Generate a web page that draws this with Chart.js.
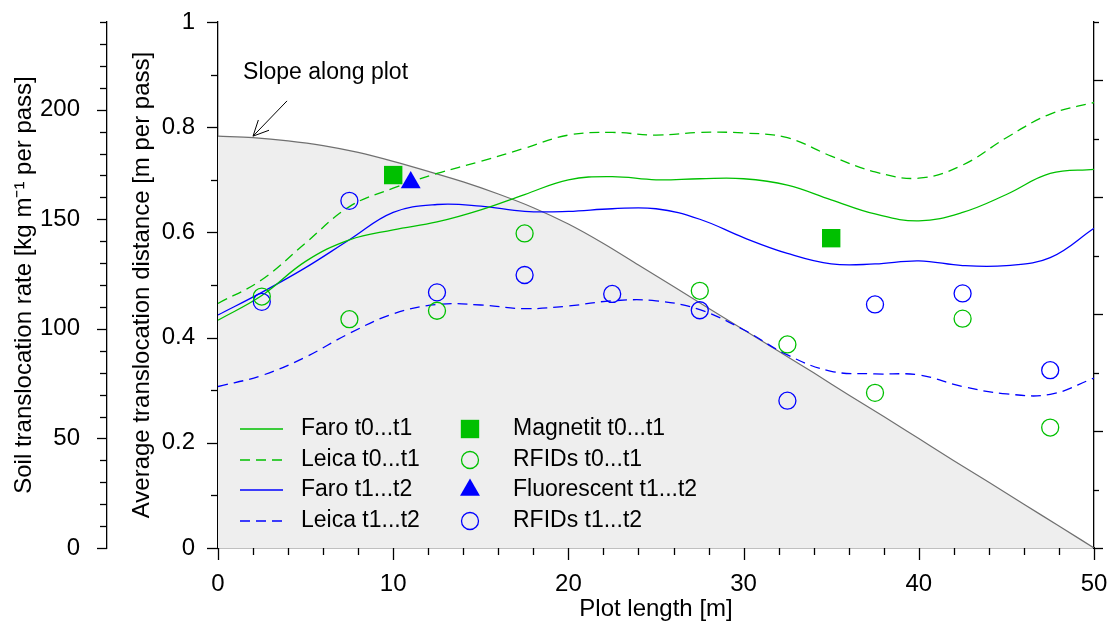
<!DOCTYPE html>
<html lang="en">
<head>
    <meta charset="UTF-8">
    <title>Translocation along plot</title>
    <script src="https://cdn.jsdelivr.net/npm/chart.js"></script>
    <style>
        html, body { margin: 0; padding: 0; background: #fff; }
    </style>
</head>
<body>
    <canvas id="grafico" width="1114" height="628"></canvas>

    <script>
        // profile positions along the plot [m]
        const lineX = [0, 2.5, 5, 7.5, 10, 12.5, 15, 17.5, 20, 22.5, 25, 27.5, 30, 32.5, 35, 37.5, 40, 42.5, 45, 47.5, 50];
        const faroT0T1 = [0.433, 0.48, 0.545, 0.586, 0.605, 0.62, 0.643, 0.672, 0.70, 0.706, 0.70, 0.702, 0.702, 0.69, 0.662, 0.635, 0.622, 0.638, 0.672, 0.712, 0.72];
        const leicaT0T1 = [0.465, 0.51, 0.58, 0.649, 0.684, 0.712, 0.735, 0.76, 0.785, 0.79, 0.785, 0.79, 0.789, 0.78, 0.745, 0.715, 0.703, 0.728, 0.78, 0.825, 0.847];
        const faroT1T2 = [0.443, 0.486, 0.533, 0.586, 0.638, 0.653, 0.65, 0.64, 0.64, 0.645, 0.645, 0.625, 0.59, 0.56, 0.54, 0.54, 0.546, 0.537, 0.537, 0.552, 0.608];
        const leicaT1T2 = [0.307, 0.328, 0.363, 0.408, 0.445, 0.463, 0.462, 0.455, 0.46, 0.47, 0.47, 0.453, 0.415, 0.367, 0.336, 0.331, 0.329, 0.307, 0.293, 0.292, 0.323];

        // tracer measurements
        const magnetitX = [10, 35];
        const magnetitY = [0.709, 0.589];
        const fluorX = [11];
        const fluorY = [0.695];
        const rfidT0T1X = [2.5, 7.5, 12.5, 17.5, 27.5, 32.5, 37.5, 42.5, 47.5];
        const rfidT0T1Y = [0.478, 0.435, 0.451, 0.598, 0.489, 0.387, 0.295, 0.436, 0.229];
        const rfidT1T2X = [2.5, 7.5, 12.5, 17.5, 22.5, 27.5, 32.5, 37.5, 42.5, 47.5];
        const rfidT1T2Y = [0.468, 0.66, 0.486, 0.519, 0.483, 0.452, 0.28, 0.463, 0.484, 0.338];

        // slope profile (relative elevation, drawn on distance axis)
        const slopeX = [0, 2, 4, 6, 8, 10, 12, 14, 16, 18, 20, 22, 24, 26, 28, 30, 32, 34, 36, 38, 40, 42, 44, 46, 48, 50];
        const slopeY = [0.783, 0.780, 0.774, 0.765, 0.752, 0.735, 0.716, 0.696, 0.673, 0.647, 0.616, 0.579, 0.538, 0.497, 0.456, 0.415, 0.374, 0.333, 0.291, 0.250, 0.208, 0.166, 0.125, 0.083, 0.042, 0.0];

        // axis tick values
        const xMajor = [0, 10, 20, 30, 40, 50];
        const xMinor = [2, 4, 6, 8, 12, 14, 16, 18, 22, 24, 26, 28, 32, 34, 36, 38, 42, 44, 46, 48];
        const distMajor = [0, 0.2, 0.4, 0.6, 0.8, 1];
        const distMinor = [0.1, 0.3, 0.5, 0.7, 0.9];
        const soilMajor = [0, 50, 100, 150, 200];
        const soilMinor = [10, 20, 30, 40, 60, 70, 80, 90, 110, 120, 130, 140, 160, 170, 180, 190, 210, 220, 230, 240];
        const rightMajor = [0, 2, 4, 6, 8];
        const rightMinor = [1, 3, 5, 7, 9];

        const verde = '#00c000';
        const azul = '#0000ff';

        function pares(xs, ys) {
            return xs.map((x, i) => ({ x: x, y: ys[i] }));
        }

        function linha(label, ys, cor, dash) {
            return {
                type: 'line', label: label, data: pares(lineX, ys),
                borderColor: cor, borderWidth: 1.3, borderDash: dash,
                pointRadius: 0, tension: 0.4, fill: false, order: 5
            };
        }

        function pontos(label, xs, ys, estilo, raio, cor, cheio) {
            return {
                type: 'scatter', label: label, data: pares(xs, ys),
                pointStyle: estilo, pointRadius: raio,
                borderColor: cor, backgroundColor: cheio ? cor : 'rgba(0,0,0,0)',
                pointBorderWidth: cheio ? 0 : 1.3, showLine: false, order: 1
            };
        }

        const datasets = [
            linha('Faro t0...t1', faroT0T1, verde, []),
            linha('Leica t0...t1', leicaT0T1, verde, [10, 6]),
            linha('Faro t1...t2', faroT1T2, azul, []),
            linha('Leica t1...t2', leicaT1T2, azul, [10, 6]),
            pontos('Magnetit t0...t1', magnetitX, magnetitY, 'rect', 13, verde, true),
            pontos('RFIDs t0...t1', rfidT0T1X, rfidT0T1Y, 'circle', 8.5, verde, false),
            pontos('Fluorescent t1...t2', fluorX, fluorY, 'triangle', 11.5, azul, true),
            pontos('RFIDs t1...t2', rfidT1T2X, rfidT1T2Y, 'circle', 8.5, azul, false),
            {
                type: 'line', label: 'Slope', data: pares(slopeX, slopeY),
                borderColor: '#707070', borderWidth: 1.2, backgroundColor: '#eeeeee',
                fill: 'origin', pointRadius: 0, cubicInterpolationMode: 'monotone', order: 10
            }
        ];

        // ticks, legend and the slope note
        const extras = {
            id: 'extras',
            afterDraw(chart) {
                const ctx = chart.ctx;
                const s = chart.scales;
                ctx.save();
                ctx.strokeStyle = '#000';
                ctx.lineWidth = 1.3;

                function marcas(scale, vals, len, lado) {
                    vals.forEach(v => {
                        const p = Math.round(scale.getPixelForValue(v)) + 0.5;
                        ctx.beginPath();
                        if (lado === 'left') { ctx.moveTo(scale.right, p); ctx.lineTo(scale.right - len, p); }
                        else if (lado === 'right') { ctx.moveTo(scale.left, p); ctx.lineTo(scale.left + len, p); }
                        else { ctx.moveTo(p, scale.top); ctx.lineTo(p, scale.top + len); }
                        ctx.stroke();
                    });
                }
                marcas(s.x, xMajor, 12, 'bottom');
                marcas(s.x, xMinor, 7, 'bottom');
                marcas(s.y, distMajor, 11, 'left');
                marcas(s.y, distMinor, 7, 'left');
                marcas(s.soil, soilMajor, 10, 'left');
                marcas(s.soil, soilMinor, 7, 'left');
                marcas(s.right, rightMajor, 9, 'right');
                marcas(s.right, rightMinor, 5, 'right');

                // legend inside plot area
                const a = chart.chartArea;
                ctx.font = '23px "Liberation Sans", Arial, sans-serif';
                ctx.fillStyle = '#000';
                ctx.textBaseline = 'middle';
                ctx.textAlign = 'left';
                const linhas = [a.bottom - 119, a.bottom - 88, a.bottom - 58, a.bottom - 27];
                chart.data.datasets.slice(0, 8).forEach((ds, i) => {
                    const col = Math.floor(i / 4);
                    const y = linhas[i % 4];
                    if (col === 0) {
                        ctx.save();
                        ctx.strokeStyle = ds.borderColor;
                        ctx.lineWidth = ds.borderWidth;
                        ctx.setLineDash(ds.borderDash || []);
                        ctx.beginPath();
                        ctx.moveTo(a.left + 22, y);
                        ctx.lineTo(a.left + 65, y);
                        ctx.stroke();
                        ctx.restore();
                        ctx.fillText(ds.label, a.left + 83, y);
                    } else {
                        ctx.save();
                        ctx.strokeStyle = ds.borderColor;
                        ctx.fillStyle = ds.backgroundColor;
                        ctx.lineWidth = ds.pointBorderWidth;
                        Chart.helpers.drawPoint(ctx, {
                            pointStyle: ds.pointStyle, radius: ds.pointRadius,
                            borderWidth: ds.pointBorderWidth, rotation: 0
                        }, a.left + 252, y);
                        ctx.restore();
                        ctx.fillText(ds.label, a.left + 295, y);
                    }
                });

                // "Slope along plot" note with arrow
                ctx.fillText('Slope along plot', s.x.getPixelForValue(1.43), s.y.getPixelForValue(0.903));
                const x0 = s.x.getPixelForValue(3.94), y0 = s.y.getPixelForValue(0.85);
                const x1 = s.x.getPixelForValue(2.0), y1 = s.y.getPixelForValue(0.783);
                const ang = Math.atan2(y1 - y0, x1 - x0);
                ctx.lineWidth = 1;
                ctx.beginPath();
                ctx.moveTo(x0, y0);
                ctx.lineTo(x1, y1);
                ctx.moveTo(x1 - 17 * Math.cos(ang - 0.45), y1 - 17 * Math.sin(ang - 0.45));
                ctx.lineTo(x1, y1);
                ctx.lineTo(x1 - 17 * Math.cos(ang + 0.45), y1 - 17 * Math.sin(ang + 0.45));
                ctx.stroke();
                ctx.restore();
            }
        };

        Chart.defaults.font.family = '"Liberation Sans", Arial, sans-serif';
        Chart.defaults.font.size = 24;
        Chart.defaults.color = '#000';

        const fonteTitulo = { size: 24 };
        const borda = { display: true, color: '#000', width: 1.3 };

        // fixed box size, and no extra room for overhanging labels
        function caixa(prop, valor) {
            return sc => {
                sc[prop] = valor;
                sc.paddingTop = sc.paddingBottom = sc.paddingLeft = sc.paddingRight = 0;
            };
        }

        new Chart(document.getElementById('grafico').getContext('2d'), {
            data: { datasets: datasets },
            plugins: [extras],
            options: {
                responsive: false,
                animation: false,
                devicePixelRatio: 1,
                layout: { padding: { left: 0, right: 0, top: 22, bottom: 0 } },
                plugins: {
                    legend: { display: false },
                    tooltip: { enabled: false },
                    filler: { drawTime: 'beforeDatasetsDraw' }
                },
                scales: {
                    x: {
                        type: 'linear', position: 'bottom', min: 0, max: 50,
                        grid: { display: false }, border: borda,
                        ticks: { stepSize: 10, padding: 14, maxRotation: 0 },
                        title: { display: true, text: 'Plot length [m]', font: fonteTitulo, padding: { top: 0, bottom: 4 } },
                        afterFit: caixa('height', 80)
                    },
                    y: {
                        type: 'linear', position: 'left', weight: 1, min: 0, max: 1,
                        grid: { display: false }, border: borda,
                        ticks: { stepSize: 0.2, padding: 15, callback: v => String(Math.round(v * 10) / 10) },
                        title: { display: true, text: 'Average translocation distance [m per pass]', font: fonteTitulo, padding: { top: 21, bottom: 0 } },
                        afterFit: caixa('width', 111)
                    },
                    soil: {
                        type: 'linear', position: 'left', weight: 2, min: 0, max: 240,
                        grid: { display: false }, border: borda,
                        ticks: { stepSize: 50, padding: 19, autoSkip: false, callback: v => (v % 50 === 0 ? v : '') },
                        title: { display: true, text: 'Soil translocation rate [kg m⁻¹ per pass]', font: fonteTitulo, padding: { top: 10, bottom: 0 } },
                        afterFit: caixa('width', 107)
                    },
                    right: {
                        type: 'linear', position: 'right', min: 0, max: 9,
                        grid: { display: false }, border: borda,
                        ticks: { display: false },
                        afterFit: caixa('width', 20)
                    }
                }
            }
        });
    </script>
</body>
</html>
